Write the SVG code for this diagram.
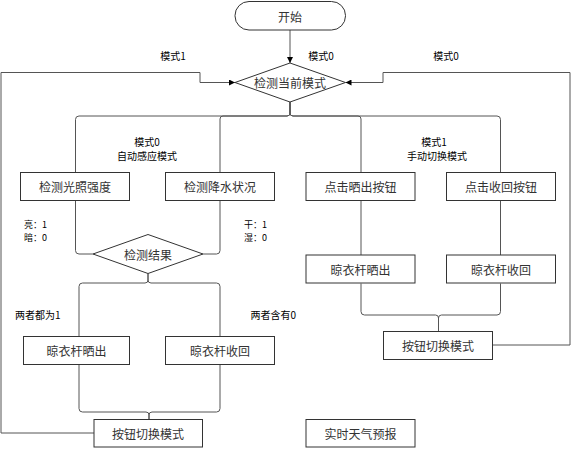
<svg xmlns="http://www.w3.org/2000/svg" width="573" height="449" viewBox="0 0 573 449">
<defs>
<marker id="arr" viewBox="0 0 10 10" refX="10" refY="5" markerWidth="6" markerHeight="6" orient="auto" markerUnits="userSpaceOnUse">
<path d="M0,0 L10,5 L0,10 Z" fill="#000"/>
</marker>
<style>
.box{fill:#fff;stroke:#333;stroke-width:1}
.t{font-family:"Noto Sans CJK SC","Noto Sans",sans-serif;font-size:12px;fill:#333;text-anchor:middle;dominant-baseline:central}
.l{font-family:"Noto Sans CJK SC","Noto Sans",sans-serif;font-size:10px;fill:#000;dominant-baseline:central}
.s{font-size:9px}
.lc{text-anchor:middle}
.c{fill:none;stroke:#555;stroke-width:1}
</style>
</defs>
<rect width="573" height="449" fill="#fff"/>
<g id="connectors">
<path class="c" d="M290 30 V63" marker-end="url(#arr)"/>
<path class="c" d="M94 433 H1 V72.5 H200 V82.5 H235" marker-end="url(#arr)"/>
<path class="c" d="M492.5 345 H570 V72.5 H383 V82.5 H345.5" marker-end="url(#arr)"/>
<path class="c" d="M290 102 V113 Q290 116 287 116 H79 Q75.5 116 75.5 119.5 V172.5"/>
<path class="c" d="M290 102 V113 Q290 116 287 116 H223 Q220 116 220 119 V172.5"/>
<path class="c" d="M290 102 V113 Q290 116 293 116 H358 Q361 116 361 119 V172.5"/>
<path class="c" d="M290 102 V113 Q290 116 293 116 H497 Q500.5 116 500.5 119.5 V172.5"/>
<path class="c" d="M75.5 200.5 V250.5 Q75.5 254 79 254 H93"/>
<path class="c" d="M220 200.5 V250.5 Q220 254 216.5 254 H203"/>
<path class="c" d="M148 273.5 V280 Q148 283 145 283 H82.5 Q79 283 79 286.5 V336.5"/>
<path class="c" d="M148 273.5 V280 Q148 283 151 283 H216.5 Q220 283 220 286.5 V336.5"/>
<path class="c" d="M79 364.5 V408.5 Q79 412 82.5 412 H146 Q149 412 149 415 V419.5"/>
<path class="c" d="M220 364.5 V408.5 Q220 412 216.5 412 H152 Q149 412 149 415 V419.5"/>
<path class="c" d="M361 200.5 V255"/>
<path class="c" d="M500.5 200.5 V255"/>
<path class="c" d="M361 283.5 V311.5 Q361 315 364.5 315 H435.5 Q438.5 315 438.5 318 V331.5"/>
<path class="c" d="M500.5 283.5 V311.5 Q500.5 315 497 315 H441.5 Q438.5 315 438.5 318 V331.5"/>
</g>
<g id="start"><rect class="box" x="235" y="1.5" width="110.5" height="28.5" rx="14"/><text class="t" x="290" y="16">开始</text></g>
<g id="mode"><path class="box" d="M235 82.5 L290 63 L345.5 82.5 L290 102 Z"/><text class="t" x="290" y="82.5">检测当前模式</text></g>
<g id="light"><rect class="box" x="20.5" y="172.5" width="109" height="28"/><text class="t" x="75" y="186.5">检测光照强度</text></g>
<g id="rain"><rect class="box" x="165.5" y="172.5" width="109" height="28"/><text class="t" x="220" y="186.5">检测降水状况</text></g>
<g id="btnout"><rect class="box" x="306" y="172.5" width="109" height="28"/><text class="t" x="360.5" y="186.5">点击晒出按钮</text></g>
<g id="btnin"><rect class="box" x="446.5" y="172.5" width="109" height="28"/><text class="t" x="501" y="186.5">点击收回按钮</text></g>
<g id="result"><path class="box" d="M93 254 L148 234.5 L203 254 L148 273.5 Z"/><text class="t" x="148" y="254">检测结果</text></g>
<g id="out1"><rect class="box" x="23.5" y="336.5" width="106" height="28"/><text class="t" x="76.5" y="350.5">晾衣杆晒出</text></g>
<g id="in1"><rect class="box" x="165.5" y="336.5" width="109" height="28"/><text class="t" x="220" y="350.5">晾衣杆收回</text></g>
<g id="out2"><rect class="box" x="306" y="255" width="109" height="28"/><text class="t" x="360.5" y="269">晾衣杆晒出</text></g>
<g id="in2"><rect class="box" x="446.5" y="255" width="109" height="28"/><text class="t" x="501" y="269">晾衣杆收回</text></g>
<g id="switch1"><rect class="box" x="94" y="419.5" width="108.5" height="27.5"/><text class="t" x="148" y="433.5">按钮切换模式</text></g>
<g id="switch2"><rect class="box" x="383.5" y="331.5" width="109" height="28"/><text class="t" x="438" y="345.5">按钮切换模式</text></g>
<g id="weather"><rect class="box" x="306" y="419.5" width="109" height="27.5"/><text class="t" x="360.5" y="433.5">实时天气预报</text></g>
<g id="labels">
<text class="l lc" x="173" y="55">模式1</text>
<text class="l lc" x="321" y="55">模式0</text>
<text class="l lc" x="446" y="55">模式0</text>
<text class="l lc" x="147" y="141">模式0</text>
<text class="l lc" x="147" y="155">自动感应模式</text>
<text class="l lc" x="434" y="141">模式1</text>
<text class="l lc" x="437" y="155">手动切换模式</text>
<text class="l s" x="24" y="224.5">亮：1</text>
<text class="l s" x="24" y="237.5">暗：0</text>
<text class="l s" x="244" y="224.5">干：1</text>
<text class="l s" x="244" y="237.5">湿：0</text>
<text class="l" x="15" y="314">两者都为1</text>
<text class="l" x="250.5" y="314">两者含有0</text>
</g>
</svg>
